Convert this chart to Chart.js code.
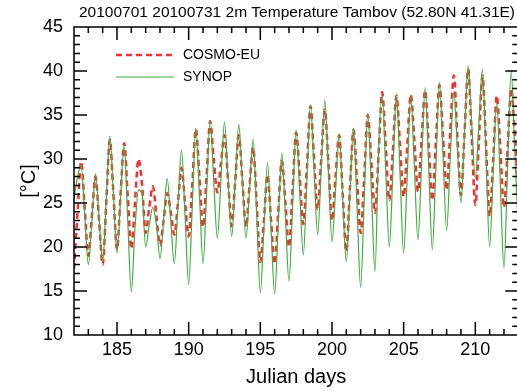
<!DOCTYPE html>
<html>
<head>
<meta charset="utf-8">
<script src="https://cdn.jsdelivr.net/npm/chart.js@4.4.1/dist/chart.umd.min.js"></script>
<style>
  html, body { margin: 0; padding: 0; background: #fff; overflow: hidden; }
  #wrap { width: 517px; height: 391px; overflow: hidden; }
</style>
</head>
<body>
<div id="wrap"><canvas id="tempChart" width="530" height="391"></canvas></div>
<script>
const chartTitle = "20100701 20100731 2m Temperature Tambov (52.80N 41.31E)";
const seriesNames = ["COSMO-EU", "SYNOP"];
const firstDay = 182;
const lastDay = 213;
const stepDays = 0.25; // values every 6 h: 00, 06, 12, 18 UTC
const xTickValues = [185, 190, 195, 200, 205, 210];
const yTickValues = [10, 15, 20, 25, 30, 35, 40, 45];

// COSMO-EU 2m temperature [°C], from day 182 00 UTC
const cosmoTemps = [
    17.5, 24.0, 29.7, 24.3,   19.0, 23.5, 28.0, 23.0,   18.0, 25.0, 32.2, 26.0,
    19.7, 26.0, 31.8, 25.8,   19.8, 25.0, 30.0, 27.0,   21.6, 24.5, 26.9, 23.5,
    20.2, 23.0, 26.1, 24.0,   21.4, 25.0, 29.0, 25.0,   21.2, 27.0, 33.4, 28.0,
    22.3, 28.0, 34.3, 30.0,   26.2, 29.5, 32.7, 27.5,   22.4, 27.5, 32.7, 27.5,
    22.3, 27.0, 31.3, 24.8,   18.3, 23.0, 28.2, 23.0,   18.1, 24.0, 29.8, 25.0,
    20.0, 26.5, 33.0, 28.0,   22.6, 29.0, 36.0, 30.0,   24.3, 30.0, 35.6, 29.5,
    23.0, 28.0, 32.7, 26.0,   19.5, 26.5, 33.3, 27.5,   21.6, 28.0, 35.0, 29.5,
    23.9, 30.5, 37.6, 31.5,   25.3, 31.0, 37.2, 31.5,   25.7, 31.5, 37.3, 32.0,
    26.3, 32.0, 37.8, 31.5,   25.3, 32.0, 38.4, 32.5,   26.5, 33.0, 39.5, 32.5,
    25.9, 33.0, 40.2, 32.5,   24.8, 32.0, 39.5, 31.5,   23.5, 30.0, 37.2, 31.0,
    24.5, 31.0, 38.0, 33.0,   27.0
];

// SYNOP observations [°C], same times
const synopTemps = [
    25.5, 28.0, 29.3, 23.6,   18.0, 23.0, 28.3, 23.3,   18.3, 25.5, 32.6, 26.0,
    19.3, 25.5, 31.6, 23.0,   14.9, 22.0, 26.5, 26.0,   20.0, 22.5, 24.5, 22.5,
    18.7, 23.0, 27.8, 23.0,   18.1, 24.5, 31.0, 23.5,   15.7, 24.5, 33.5, 26.0,
    18.1, 26.0, 34.4, 27.5,   21.0, 27.5, 34.2, 27.7,   21.2, 27.5, 33.9, 27.5,
    21.0, 26.5, 32.3, 23.5,   14.8, 22.0, 29.6, 22.0,   14.7, 22.5, 30.7, 23.5,
    16.1, 24.5, 33.3, 26.2,   19.1, 27.5, 36.1, 28.7,   21.4, 29.0, 36.7, 28.6,
    20.6, 26.5, 32.9, 25.5,   18.3, 26.0, 33.5, 24.5,   15.4, 25.5, 35.2, 26.3,
    17.2, 31.0, 37.4, 28.7,   20.0, 28.5, 37.4, 28.3,   19.3, 28.0, 37.3, 29.0,
    20.8, 29.5, 38.1, 29.0,   19.7, 29.0, 38.7, 30.3,   21.9, 30.0, 37.7, 31.3,
    25.0, 33.0, 40.6, 34.0,   27.8, 34.0, 40.2, 30.0,   20.0, 28.5, 36.5, 27.0,
    17.6, 29.0, 40.1, 31.0,   22.0
];

const fontFamily = "'Liberation Sans', Arial, Helvetica, sans-serif";
const red = "#f53030";
const green = "#3fae3f";

function toPoints(temps) {
    return temps.map((t, i) => ({ x: firstDay + i * stepDays, y: t }));
}

// box with inward ticks on all four sides (NCL style)
const frameTicks = {
    id: "frameTicks",
    afterDatasetsDraw(chart) {
        const { ctx, chartArea: a, scales: { x, y } } = chart;
        ctx.save();
        ctx.strokeStyle = "#000";
        ctx.lineWidth = 1.5;
        ctx.strokeRect(a.left, a.top, a.right - a.left, a.bottom - a.top);
        ctx.beginPath();
        for (let d = firstDay + 1; d < lastDay; d++) {
            const px = x.getPixelForValue(d);
            const len = d % 5 === 0 ? 13 : 6;
            ctx.moveTo(px, a.bottom); ctx.lineTo(px, a.bottom - len);
            ctx.moveTo(px, a.top); ctx.lineTo(px, a.top + len);
        }
        for (let t = 11; t < 45; t++) {
            const py = y.getPixelForValue(t);
            const len = t % 5 === 0 ? 13 : 6;
            ctx.moveTo(a.left, py); ctx.lineTo(a.left + len, py);
            ctx.moveTo(a.right, py); ctx.lineTo(a.right - len, py);
        }
        ctx.stroke();

        // title
        ctx.fillStyle = "#000";
        ctx.font = "15.5px " + fontFamily;
        ctx.textAlign = "center";
        ctx.textBaseline = "middle";
        ctx.fillText(chartTitle, 297, 13);

        // legend inside the plot
        const sets = chart.data.datasets;
        const rows = [55, 77];
        ctx.font = "14px " + fontFamily;
        ctx.textAlign = "left";
        sets.forEach((ds, i) => {
            ctx.beginPath();
            ctx.strokeStyle = ds.borderColor;
            ctx.lineWidth = ds.borderWidth;
            ctx.setLineDash(ds.borderDash || []);
            ctx.moveTo(116, rows[i]);
            ctx.lineTo(174, rows[i]);
            ctx.stroke();
            ctx.setLineDash([]);
            ctx.fillText(ds.label, 183, rows[i]);
        });
        ctx.restore();
    }
};

new Chart(document.getElementById("tempChart"), {
    type: "line",
    data: {
        datasets: [
            {
                label: seriesNames[0],
                data: toPoints(cosmoTemps),
                borderColor: red,
                borderWidth: 2.5,
                borderDash: [6, 4],
                pointRadius: 0,
                cubicInterpolationMode: "monotone",
                order: 1
            },
            {
                label: seriesNames[1],
                data: toPoints(synopTemps),
                borderColor: green,
                borderWidth: 1.2,
                pointRadius: 0,
                cubicInterpolationMode: "monotone",
                order: 0
            }
        ]
    },
    options: {
        responsive: false,
        animation: false,
        events: [],
        layout: { padding: { left: 0, top: 27, right: 530 - 518.3, bottom: 0 } },
        plugins: { legend: { display: false }, tooltip: { enabled: false } },
        scales: {
            x: {
                type: "linear",
                min: firstDay,
                max: lastDay,
                grid: { display: false, drawTicks: false },
                border: { display: false },
                afterBuildTicks: (s) => { s.ticks = xTickValues.map(v => ({ value: v })); },
                afterFit: (s) => { s.height = 391 - 335; },
                ticks: { color: "#000", font: { size: 18, family: fontFamily }, padding: 4, maxRotation: 0 },
                title: { display: true, text: "Julian days", color: "#000", font: { size: 20, family: fontFamily }, padding: { bottom: 2 } }
            },
            y: {
                min: 10,
                max: 45,
                grid: { display: false, drawTicks: false },
                border: { display: false },
                afterBuildTicks: (s) => { s.ticks = yTickValues.map(v => ({ value: v })); },
                afterFit: (s) => { s.width = 74; },
                ticks: { color: "#000", font: { size: 18, family: fontFamily }, padding: 11 },
                title: { display: true, text: "[°C]", color: "#000", font: { size: 20, family: fontFamily }, padding: { top: 17 } }
            }
        }
    },
    plugins: [frameTicks]
});
</script>
</body>
</html>
